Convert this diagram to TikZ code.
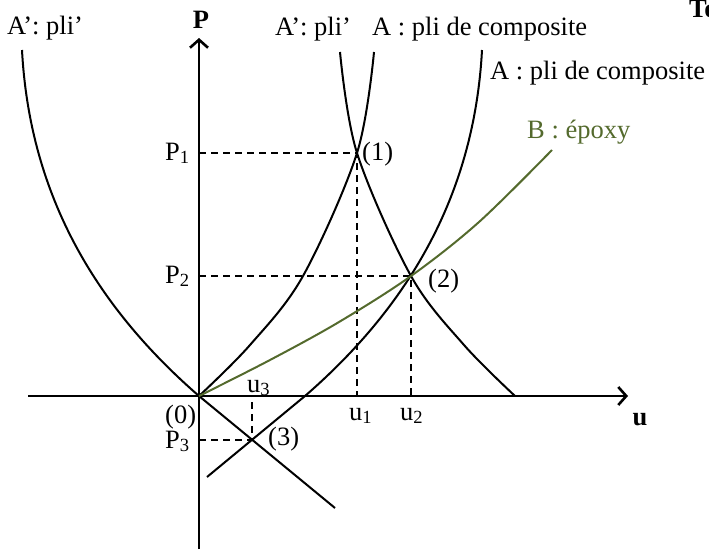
\documentclass[tikz,border=0pt]{standalone}
\usepackage{fontspec}
\setmainfont{Liberation Serif}
\usetikzlibrary{arrows.meta}
\definecolor{epoxy}{RGB}{84,106,45}
\begin{document}
\begin{tikzpicture}[x=1pt,y=-1pt,
  every node/.style={inner sep=0pt, font=\fontsize{26.5}{31}\selectfont},
  lbl/.style={anchor=base west},
  axislbl/.style={anchor=base, font=\fontsize{26.5}{31}\selectfont\bfseries},
  axis/.style={line width=2.8pt, -{Straight Barb[length=8pt,width=18pt,line width=2.6pt]}},
  curve/.style={line width=2pt, line join=round},
  epoxycurve/.style={line width=2pt, draw=epoxy},
  guide/.style={line width=1.4pt, dash pattern=on 7pt off 5pt}]
\useasboundingbox (0,0) rectangle (709,549);

% key points
\coordinate (O) at (199,396);
\coordinate (I1) at (357,153);
\coordinate (I2) at (411,276);
\coordinate (I3) at (252,440);
\coordinate (Pa) at (199,153);
\coordinate (Pb) at (199,276);
\coordinate (Pc) at (199,440);
\coordinate (Ua) at (357,396);
\coordinate (Ub) at (411,396);
\coordinate (Uc) at (252,396);
\coordinate (ytop) at (199,38);
\coordinate (ybot) at (199,549);
\coordinate (xleft) at (28,396);
\coordinate (xright) at (628,396);
\coordinate (Ltop) at (22,50);
\coordinate (Lend) at (335,508);
\coordinate (Rtop) at (482,50);
\coordinate (Rx) at (305,396);
\coordinate (Rend) at (207,477);

% dashed guides
\draw[guide] (Pa) -- (I1) -- (Ua);
\draw[guide] (Pb) -- (I2) -- (Ub);
\draw[guide] (Pc) -- (I3) -- (Uc);

% axes
\draw[axis] (ybot) -- (ytop);
\draw[axis] (xleft) -- (xright);

% A' left
\draw[curve] (Ltop) .. controls (30,200) and (100,310) .. (O) -- (Lend);
% A (through origin)
\draw[curve] plot[smooth, tension=0.55] coordinates {(O) (250,345) (303,276) (I1) (374,52)};
% A' right (mirror of A)
\draw[curve] plot[smooth, tension=0.55] coordinates {(340,52) (I1) (I2) (464,345) (515,396)};
% A second (mirror of A' left)
\draw[curve] (Rtop) .. controls (474,200) and (404,310) .. (Rx) -- (Rend);
% B epoxy
\draw[epoxycurve] plot[smooth, tension=0.55] coordinates {(O) (270,360) (339,322) (I2) (479,222) (552,150)};

% axis labels
\node[axislbl] (lP) at (201,28) {P};
\node[axislbl] (lu) at (640,425) {u};
\node[anchor=base west, font=\fontsize{26.5}{31}\selectfont\bfseries] (lTo) at (689,17) {To};

% curve labels
\node[lbl] (tA1) at (7,34) {A’: pli’};
\node[lbl] (tA2) at (275,35) {A’: pli’};
\node[lbl] (tA3) at (372,35) {A : pli de composite};
\node[lbl] (tA4) at (490,79) {A : pli de composite};
\node[lbl, text=epoxy] (tB) at (527,138) {B : époxy};

% point labels
\node[lbl] (lP1) at (165,160) {P\textsubscript{1}};
\node[lbl] (lP2) at (165,283) {P\textsubscript{2}};
\node[lbl] (lP3) at (165,448) {P\textsubscript{3}};
\node[lbl] (l0) at (165,423) {(0)};
\node[lbl] (l1) at (362,160) {(1)};
\node[lbl] (l2) at (428,287) {(2)};
\node[lbl] (l3) at (268,445) {(3)};
\node[lbl] (lu1) at (349,420) {u\textsubscript{1}};
\node[lbl] (lu2) at (400,420) {u\textsubscript{2}};
\node[lbl] (lu3) at (247,392) {u\textsubscript{3}};
\end{tikzpicture}
\end{document}
